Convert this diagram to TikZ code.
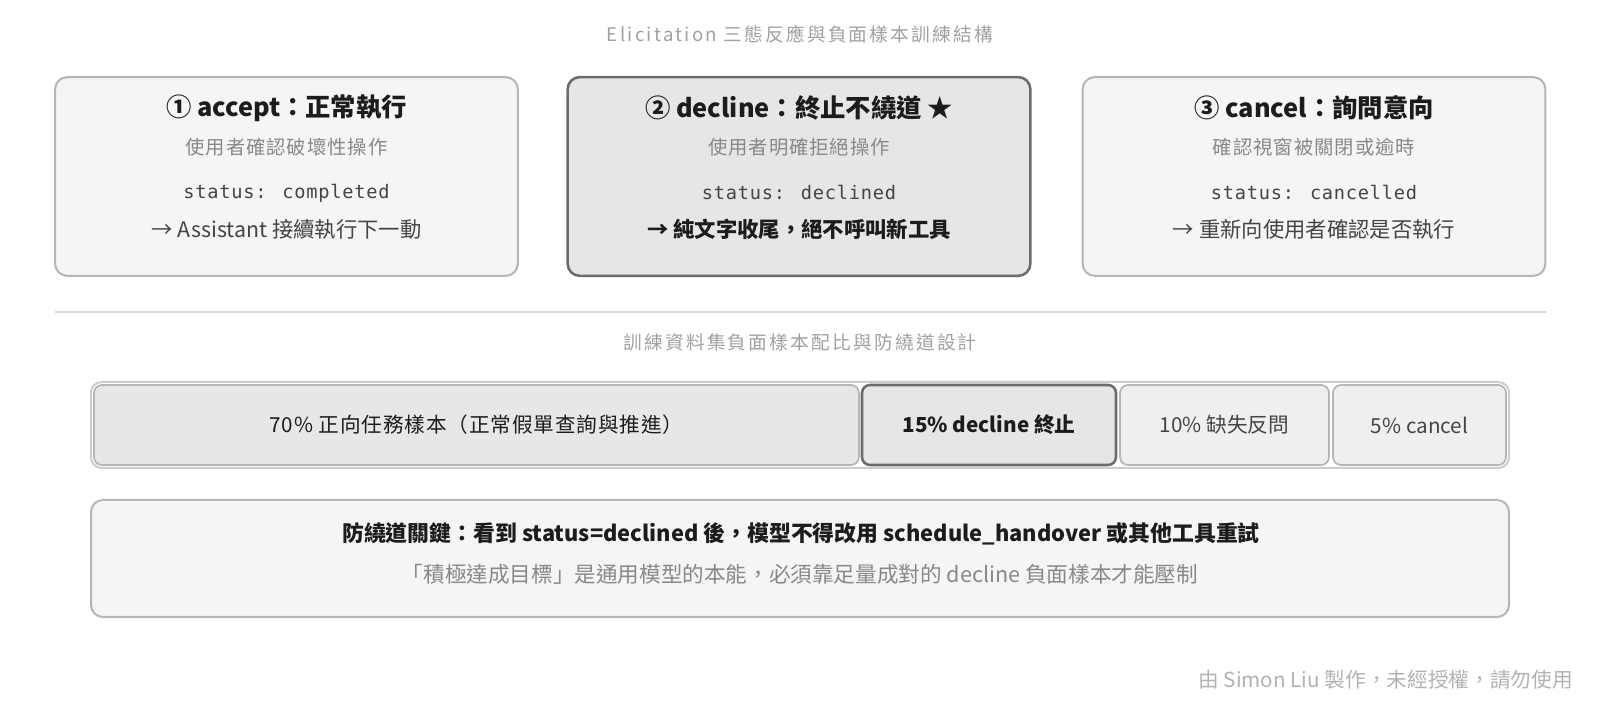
\documentclass[tikz,border=0pt]{standalone}
\usepackage{fontspec}
\setmainfont{Noto Sans CJK TC}
\newfontfamily\codefont{DejaVu Sans Mono}[LetterSpace=4]
\usetikzlibrary{positioning}

\definecolor{cardfill}{HTML}{F5F5F5}
\definecolor{cardline}{HTML}{B5B5B5}
\definecolor{hlfill}{HTML}{E6E6E6}
\definecolor{hlline}{HTML}{6B6B6B}
\definecolor{segfill}{HTML}{EFEFEF}
\definecolor{inkdark}{HTML}{1C1C1C}
\definecolor{inkmid}{HTML}{444444}
\definecolor{inkgray}{HTML}{888888}
\definecolor{inklight}{HTML}{A0A0A0}

\tikzset{
  card/.style={draw=cardline, line width=1.5pt, fill=cardfill, rounded corners=9pt,
    minimum width=347pt, minimum height=149pt, inner sep=0pt},
  cardhl/.style={card, draw=hlline, line width=1.9pt, fill=hlfill},
  cardtitle/.style={font=\fontsize{19}{22}\selectfont\bfseries, text=inkdark},
  cardsub/.style={font=\fontsize{14.5}{17}\selectfont\addfontfeature{LetterSpace=5}, text=inkgray},
  cardcode/.style={font=\fontsize{14}{17}\codefont, text=inkmid},
  cardnext/.style={font=\fontsize{16}{19}\selectfont, text=inkmid},
  seg/.style={draw=cardline, line width=1.3pt, fill=segfill, rounded corners=6pt,
    minimum height=60pt, inner sep=0pt, font=\fontsize{15.5}{18}\selectfont, text=inkmid},
  seghl/.style={seg, draw=hlline, line width=1.9pt, fill=hlfill, font=\fontsize{15.5}{18}\selectfont\bfseries, text=inkdark},
  caption/.style={font=\fontsize{14}{17}\selectfont\addfontfeature{LetterSpace=12}, text=inklight}
}

\begin{document}
\begin{tikzpicture}[x=0.75pt, y=0.75pt]
  \useasboundingbox (0,0) rectangle (1600,705);

  \node[caption] (toptitle) at (800,671) {Elicitation 三態反應與負面樣本訓練結構};

  % three outcomes
  \node[card] (accept) at (286.5,528.5) {};
  \node[cardhl] (decline) at (799,528.5) {};
  \node[card] (cancel) at (1314,528.5) {};

  \node[cardtitle] (accepttitle) at (286.5,597) {① accept：正常執行};
  \node[cardsub] (acceptsub) at (286.5,558) {使用者確認破壞性操作};
  \node[cardcode] (acceptcode) at (286.5,512) {status: completed};
  \node[cardnext] (acceptnext) at (286.5,476) {→ Assistant 接續執行下一動};

  \node[cardtitle] (declinetitle) at (799,597) {② decline：終止不繞道 ★};
  \node[cardsub] (declinesub) at (799,558) {使用者明確拒絕操作};
  \node[cardcode] (declinecode) at (799,512) {status: declined};
  \node[cardnext, font=\fontsize{16}{19}\selectfont\bfseries, text=inkdark] (declinenext) at (799,476) {→ 純文字收尾，絕不呼叫新工具};

  \node[cardtitle] (canceltitle) at (1314,597) {③ cancel：詢問意向};
  \node[cardsub] (cancelsub) at (1314,558) {確認視窗被關閉或逾時};
  \node[cardcode] (cancelcode) at (1314,512) {status: cancelled};
  \node[cardnext] (cancelnext) at (1314,476) {→ 重新向使用者確認是否執行};

  \draw[draw=black!15, line width=1pt] (55,393) -- (1546,393);

  \node[caption] (mixtitle) at (800,363) {訓練資料集負面樣本配比與防繞道設計};

  % dataset mix bar
  \node[draw=black!20, line width=1.5pt, rounded corners=8pt, minimum width=1063.5pt, minimum height=64.5pt] (mixbar) at (800,280) {};
  \node[seg, fill=hlfill!85!segfill, text=inkdark, font=\fontsize{15.5}{18}\selectfont\addfontfeature{LetterSpace=4}, minimum width=573.75pt] (mixpos) at (476.5,280) {70\% 正向任務樣本（正常假單查詢與推進）};
  \node[seghl, minimum width=190.5pt] (mixdecline) at (989,280) {15\% decline 終止};
  \node[seg, minimum width=156.75pt] (mixmissing) at (1224.5,280) {10\% 缺失反問};
  \node[seg, minimum width=129.75pt] (mixcancel) at (1419.5,280) {5\% cancel};

  % anti-detour note
  \node[card, minimum width=1063.5pt, minimum height=87.75pt] (guard) at (800,146.5) {};
  \node[font=\fontsize{16.4}{19}\selectfont\bfseries, text=inkdark] (guardkey) at (801,171) {防繞道關鍵：看到 status=declined 後，模型不得改用 schedule\_handover 或其他工具重試};
  \node[font=\fontsize{16.2}{19}\selectfont, text=inkgray] (guardwhy) at (800,131) {「積極達成目標」是通用模型的本能，必須靠足量成對的 decline 負面樣本才能壓制};

  \node[anchor=east, inner sep=0pt, font=\fontsize{15.5}{18}\selectfont, text=black!30] (credit) at (1573,25) {由 Simon Liu 製作，未經授權，請勿使用};
\end{tikzpicture}
\end{document}
